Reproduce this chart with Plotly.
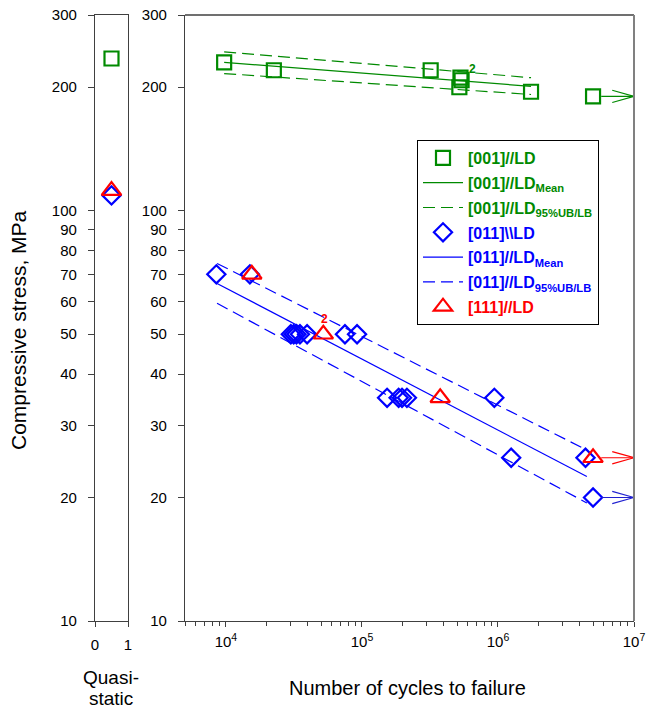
import numpy as np
import plotly.graph_objects as go

# ---- data -------------------------------------------------------------
# [001]//LD fatigue results (cycles, MPa)
g001_cycles = [9700, 22500, 320000, 530000, 540000, 520000, 1750000]
g001_stress = [230, 220, 220, 211, 208, 200, 195]
g001_runout_cycles = [5.0e6]
g001_runout_stress = [190]
g001_quasi_stress = [235]

# [011]//LD fatigue results
b011_cycles = [8500, 15000, 30000, 31500, 33000, 35000, 39500, 75000, 92000,
               153000, 186000, 197000, 214000, 940000, 1250000, 4400000]
b011_stress = [70, 70, 50, 50, 50, 50, 50, 50, 50,
               35, 35, 35, 35, 35, 25, 25]
b011_runout_cycles = [5.0e6]
b011_runout_stress = [20]
b011_quasi_stress = [109]

# [111]//LD fatigue results
r111_cycles = [15500, 52000, 376000]
r111_stress = [70, 50, 35]
r111_runout_cycles = [5.0e6]
r111_runout_stress = [25]
r111_quasi_stress = [112]

# fitted S-N lines: endpoints (cycles) and mean / 95% upper / 95% lower stresses
g001_fit_cycles = [9700, 1.75e6]
g001_fit_mean = [230, 201]
g001_fit_ub = [244, 211]
g001_fit_lb = [216, 192]

b011_fit_cycles = [8600, 4.5e6]
b011_fit_mean = [66.5, 22.5]
b011_fit_ub = [74.4, 26.1]
b011_fit_lb = [59.5, 19.4]

# multiplicity labels: (cycles, stress, text)
g001_count_label = (530000, 211, "2")
r111_count_label = (52000, 50, "2")

stress_ticks = [10, 20, 30, 40, 50, 60, 70, 80, 90, 100, 200, 300]
cycle_ticks = [1e4, 1e5, 1e6, 1e7]
cycle_tick_text = ["10<sup>4</sup>", "10<sup>5</sup>", "10<sup>6</sup>", "10<sup>7</sup>"]

GREEN = "#008a00"
BLUE = "#0000ff"
RED = "#ff0000"
AXIS = "#404040"
FONT = "Liberation Sans, Arial"
W, H = 647, 710

X_MIN_LOG, X_MAX_LOG = np.log10(5000), 7.0
Y_MIN_LOG, Y_MAX_LOG = 1.0, np.log10(300)

SQ = dict(symbol="square-open", size=14, color=GREEN, line=dict(width=2.2, color=GREEN))
DI = dict(symbol="diamond-open", size=14, color=BLUE, line=dict(width=2.2, color=BLUE))
TR = dict(symbol="triangle-up-open", size=17, color=RED, line=dict(width=2.2, color=RED))

fig = go.Figure()


def legend_text(txt, color):
    return f"<span style='color:{color}'><b>{txt}</b></span>"


# ---- fatigue panel: data and fit lines -----------------------------------
fig.add_trace(go.Scatter(x=g001_cycles, y=g001_stress, mode="markers", marker=SQ,
                         name=legend_text("[001]//LD", GREEN),
                         xaxis="x2", yaxis="y2", legendgroup="g1"))
fig.add_trace(go.Scatter(x=g001_fit_cycles, y=g001_fit_mean, mode="lines",
                         line=dict(color=GREEN, width=1.2),
                         name=legend_text("[001]//LD<sub>Mean</sub>", GREEN),
                         xaxis="x2", yaxis="y2", legendgroup="g2"))
fig.add_trace(go.Scatter(x=g001_fit_cycles, y=g001_fit_ub, mode="lines",
                         line=dict(color=GREEN, width=1.2, dash="12px,6px"),
                         name=legend_text("[001]//LD<sub>95%UB/LB</sub>", GREEN),
                         xaxis="x2", yaxis="y2", legendgroup="g3"))
fig.add_trace(go.Scatter(x=g001_fit_cycles, y=g001_fit_lb, mode="lines",
                         line=dict(color=GREEN, width=1.2, dash="12px,6px"),
                         showlegend=False, xaxis="x2", yaxis="y2", legendgroup="g3"))

fig.add_trace(go.Scatter(x=b011_cycles + b011_runout_cycles,
                         y=b011_stress + b011_runout_stress, mode="markers", marker=DI,
                         name=legend_text("[011]\\\\LD", BLUE),
                         xaxis="x2", yaxis="y2", legendgroup="b1"))
fig.add_trace(go.Scatter(x=b011_fit_cycles, y=b011_fit_mean, mode="lines",
                         line=dict(color=BLUE, width=1.2),
                         name=legend_text("[011]//LD<sub>Mean</sub>", BLUE),
                         xaxis="x2", yaxis="y2", legendgroup="b2"))
fig.add_trace(go.Scatter(x=b011_fit_cycles, y=b011_fit_ub, mode="lines",
                         line=dict(color=BLUE, width=1.2, dash="12px,6px"),
                         name=legend_text("[011]//LD<sub>95%UB/LB</sub>", BLUE),
                         xaxis="x2", yaxis="y2", legendgroup="b3"))
fig.add_trace(go.Scatter(x=b011_fit_cycles, y=b011_fit_lb, mode="lines",
                         line=dict(color=BLUE, width=1.2, dash="12px,6px"),
                         showlegend=False, xaxis="x2", yaxis="y2", legendgroup="b3"))

fig.add_trace(go.Scatter(x=r111_cycles + r111_runout_cycles,
                         y=r111_stress + r111_runout_stress, mode="markers", marker=TR,
                         name=legend_text("[111]//LD", RED),
                         xaxis="x2", yaxis="y2", legendgroup="r1"))

# green runout marker (kept out of the legend entry above)
fig.add_trace(go.Scatter(x=g001_runout_cycles, y=g001_runout_stress, mode="markers",
                         marker=SQ, showlegend=False, xaxis="x2", yaxis="y2"))


# ---- runout arrows (open "V" heads ending on the right axis) ------------
def runout_arrow(cycles, stress, color, start_gap=0.06):
    for n, s in zip(cycles, stress):
        x0 = n * 10 ** start_gap
        xb = 10 ** (X_MAX_LOG - 0.16)
        k = 10 ** 0.015
        fig.add_trace(go.Scatter(x=[x0, 10 ** X_MAX_LOG], y=[s, s], mode="lines",
                                 line=dict(color=color, width=1.2),
                                 showlegend=False, hoverinfo="skip",
                                 xaxis="x2", yaxis="y2", cliponaxis=False))
        fig.add_trace(go.Scatter(x=[xb, 10 ** X_MAX_LOG, xb], y=[s * k, s, s / k],
                                 mode="lines", line=dict(color=color, width=1.2),
                                 showlegend=False, hoverinfo="skip",
                                 xaxis="x2", yaxis="y2", cliponaxis=False))


runout_arrow(g001_runout_cycles, g001_runout_stress, GREEN)
runout_arrow(b011_runout_cycles, b011_runout_stress, "#2020d0")
runout_arrow(r111_runout_cycles, r111_runout_stress, RED)

# ---- quasi-static panel -------------------------------------------------
fig.add_trace(go.Scatter(x=[0.5], y=g001_quasi_stress, mode="markers", marker=SQ,
                         showlegend=False, xaxis="x", yaxis="y"))
fig.add_trace(go.Scatter(x=[0.5], y=b011_quasi_stress, mode="markers", marker=DI,
                         showlegend=False, xaxis="x", yaxis="y"))
fig.add_trace(go.Scatter(x=[0.5], y=r111_quasi_stress, mode="markers", marker=TR,
                         showlegend=False, xaxis="x", yaxis="y"))

# ---- text ------------------------------------------------------------------
title_font = dict(size=20, color="#000000", family=FONT)
annotations = [
    dict(x=np.log10(g001_count_label[0]), y=np.log10(g001_count_label[1]),
         xref="x2", yref="y2", text=f"<b>{g001_count_label[2]}</b>",
         showarrow=False, xshift=12, yshift=9,
         font=dict(size=12, color=GREEN, family=FONT)),
    dict(x=np.log10(r111_count_label[0]), y=np.log10(r111_count_label[1]),
         xref="x2", yref="y2", text=f"<b>{r111_count_label[2]}</b>",
         showarrow=False, xshift=1, yshift=15,
         font=dict(size=12, color=RED, family=FONT)),
    dict(x=18 / W, y=1 - 330 / H, xref="paper", yref="paper",
         text="Compressive stress, MPa", textangle=-90, showarrow=False,
         xanchor="center", yanchor="middle",
         font=dict(size=21, color="#000000", family=FONT)),
    dict(x=408 / W, y=1 - 688 / H, xref="paper", yref="paper",
         text="Number of cycles to failure", showarrow=False,
         xanchor="center", yanchor="middle", font=title_font),
    dict(x=111 / W, y=1 - 677 / H, xref="paper", yref="paper",
         text="Quasi-", showarrow=False, xanchor="center", yanchor="middle",
         font=dict(size=19, color="#000000", family=FONT)),
    dict(x=111 / W, y=1 - 698 / H, xref="paper", yref="paper",
         text="static", showarrow=False, xanchor="center", yanchor="middle",
         font=dict(size=19, color="#000000", family=FONT)),
]

y_top = 1 - 15 / H
y_bot = 1 - 621 / H
tick_font = dict(size=15, color="#000000", family=FONT)

common_y = dict(type="log", range=[Y_MIN_LOG, Y_MAX_LOG], domain=[y_bot, y_top],
                tickvals=stress_ticks, ticktext=[str(v) for v in stress_ticks],
                ticks="outside", ticklen=6, tickcolor=AXIS, showgrid=False,
                zeroline=False, showline=True, linecolor=AXIS, linewidth=1.3,
                tickfont=tick_font, automargin=False, ticklabelstandoff=8)

fig.update_layout(
    width=W, height=H,
    margin=dict(l=0, r=0, t=0, b=0, autoexpand=False),
    paper_bgcolor="white", plot_bgcolor="white",
    font=dict(family=FONT, color="#000000"),
    xaxis=dict(domain=[95 / W, 128 / W], range=[0, 1], tickvals=[0, 1],
               ticktext=["0", "1"], ticks="outside", ticklen=5, tickcolor=AXIS,
               showgrid=False, zeroline=False, showline=True, mirror=True,
               linecolor=AXIS, linewidth=1.3, tickfont=tick_font,
               automargin=False, ticklabelstandoff=5),
    yaxis=dict(**common_y, mirror=True, anchor="x"),
    xaxis2=dict(domain=[185 / W, 634 / W], type="log",
                range=[X_MIN_LOG, X_MAX_LOG], tickvals=cycle_ticks,
                ticktext=cycle_tick_text, ticks="outside", ticklen=5,
                tickcolor=AXIS, showgrid=False, zeroline=False, showline=True,
                linecolor=AXIS, linewidth=1.3, tickfont=tick_font, anchor="y2",
                automargin=False, ticklabelstandoff=2,
                minor=dict(tickvals=[m * 10 ** e for e in range(3, 7)
                                     for m in range(2, 10)
                                     if 5000 <= m * 10 ** e <= 1e7],
                           ticks="outside", ticklen=4, tickcolor=AXIS)),
    yaxis2=dict(**common_y, anchor="x2"),
    legend=dict(x=417 / W, y=1 - 140 / H, xanchor="left", yanchor="top",
                bgcolor="white", bordercolor="#000000", borderwidth=1,
                font=dict(size=16, family=FONT),
                tracegroupgap=1, itemwidth=40),
    annotations=annotations,
    shapes=[
        # frame of the fatigue panel: top and right edges
        dict(type="line", xref="x2 domain", yref="y2 domain", x0=0, x1=1, y0=1, y1=1,
             line=dict(color=AXIS, width=1.3)),
        dict(type="line", xref="x2 domain", yref="y2 domain", x0=1, x1=1, y0=0, y1=1,
             line=dict(color="#808080", width=2)),
    ],
)

fig.write_html("out.html")
